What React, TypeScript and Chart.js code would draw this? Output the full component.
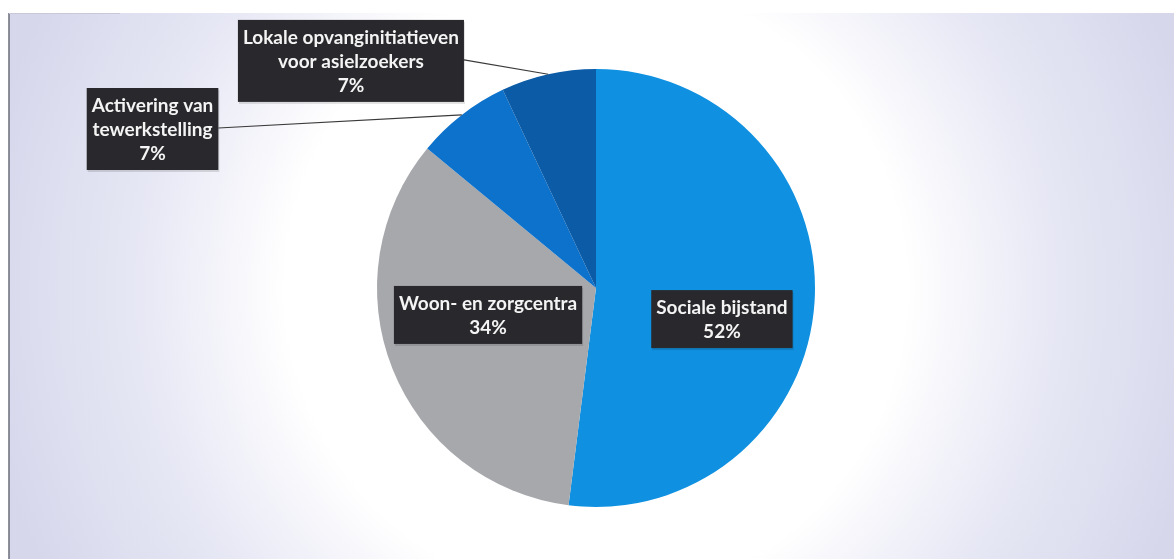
import React, { useEffect, useRef } from "react";
import { Chart, registerables } from "chart.js";

Chart.register(...registerables);

const categories: string[][] = [
  ["Sociale bijstand"],
  ["Woon- en zorgcentra"],
  ["Activering van", "tewerkstelling"],
  ["Lokale opvanginitiatieven", "voor asielzoekers"],
];
const values: number[] = [52, 34, 7, 7];
const sliceColors: string[] = ["#0f90e0", "#a6a8ab", "#0d72cc", "#0b5ba7"];

// label placement relative to pie centre, in units of the radius; leader = outside label
const labelLayout = [
  { dx: 0.575, dy: 0.142, leader: false },
  { dx: -0.493, dy: 0.123, leader: false },
  { dx: -2.025, dy: -0.726, leader: true },
  { dx: -1.119, dy: -1.037, leader: true },
];

const bgPlugin = {
  id: "bgPlugin",
  beforeDraw(chart: any) {
    const { ctx, width, height } = chart;
    ctx.save();
    ctx.fillStyle = "#ffffff";
    ctx.fillRect(0, 0, width, height);
    const meta = chart.getDatasetMeta(0);
    const arc = meta.data[0] as any;
    const cx = arc.x, cy = arc.y;
    const g = ctx.createRadialGradient(cx, cy, 0, cx, cy, 620);
    g.addColorStop(0, "#ffffff");
    g.addColorStop(0.5, "#ffffff");
    g.addColorStop(0.72, "#e8e9f5");
    g.addColorStop(1, "#d6d7eb");
    ctx.fillStyle = g;
    ctx.fillRect(9, 13, width - 9, height - 13);
    ctx.strokeStyle = "#6a6c78";
    ctx.lineWidth = 1.5;
    ctx.beginPath();
    ctx.moveTo(9, 13);
    ctx.lineTo(9, height);
    ctx.stroke();
    ctx.strokeStyle = "#c8c9d8";
    ctx.lineWidth = 1;
    ctx.beginPath();
    ctx.moveTo(9, 13.5);
    ctx.lineTo(120, 13.5);
    ctx.stroke();
    ctx.restore();
  },
};

const labelPlugin = {
  id: "labelPlugin",
  afterDatasetsDraw(chart: any) {
    const { ctx } = chart;
    const meta = chart.getDatasetMeta(0);
    const total = values.reduce((a, b) => a + b, 0);
    ctx.save();
    ctx.font = "bold 19px Lato";
    ctx.textAlign = "center";
    ctx.textBaseline = "middle";
    const lineH = 24;
    meta.data.forEach((el: any, i: number) => {
      const r = el.outerRadius;
      const cx = el.x, cy = el.y;
      const lay = labelLayout[i];
      const bx = cx + lay.dx * r;
      const by = cy + lay.dy * r;
      const pct = Math.round((values[i] / total) * 100) + "%";
      const lines = [...categories[i], pct];
      const w = Math.max(...lines.map((l) => ctx.measureText(l).width)) + 10;
      const h = lines.length * lineH + 10;
      const x0 = bx - w / 2, y0 = by - h / 2;
      if (lay.leader) {
        const mid = (el.startAngle + el.endAngle) / 2;
        ctx.strokeStyle = "#3a3a3a";
        ctx.lineWidth = 1.2;
        ctx.beginPath();
        ctx.moveTo(x0 + w, by - 1);
        ctx.lineTo(cx + Math.cos(mid) * r, cy + Math.sin(mid) * r);
        ctx.stroke();
      }
      ctx.fillStyle = "rgba(0,0,0,0.12)";
      ctx.fillRect(x0 + 1, y0 + 2, w, h);
      ctx.fillStyle = "#29292d";
      ctx.fillRect(x0, y0, w, h);
      ctx.fillStyle = "#f4f4f4";
      lines.forEach((l, k) => {
        ctx.fillText(l, bx, y0 + 5 + lineH * (k + 0.5) + 1);
      });
    });
    ctx.restore();
  },
};

export default function App() {
  const ref = useRef<HTMLCanvasElement | null>(null);
  useEffect(() => {
    document.body.style.margin = "0";
    const canvas = ref.current!;
    const chart = new Chart(canvas, {
      type: "pie",
      data: {
        labels: categories.map((c) => c.join(" ")),
        datasets: [
          {
            data: values,
            backgroundColor: sliceColors,
            borderWidth: 0,
          },
        ],
      },
      options: {
        animation: false,
        responsive: false,
        layout: { padding: { top: 69, bottom: 52, left: 377, right: 359 } },
        plugins: {
          legend: { display: false },
          tooltip: { enabled: false },
        },
      },
      plugins: [bgPlugin, labelPlugin],
    });
    return () => chart.destroy();
  }, []);
  return (
    <div style={{ width: 1174, height: 559 }}>
      <canvas ref={ref} width={1174} height={559} style={{ display: "block" }} />
    </div>
  );
}
